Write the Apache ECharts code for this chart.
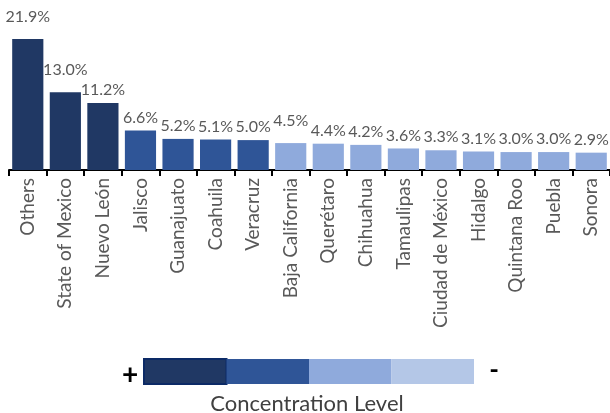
<!DOCTYPE html>
<html>
<head>
<meta charset="utf-8">
<script src="https://cdn.jsdelivr.net/npm/echarts@6/dist/echarts.min.js"></script>
<style>
  html, body { margin: 0; padding: 0; background: #fff; }
  #chart { width: 610px; height: 413px; }
</style>
</head>
<body>
<div id="chart"></div>
<script>
// states ranked by share
var states = ['Others', 'State of Mexico', 'Nuevo León', 'Jalisco', 'Guanajuato', 'Coahuila', 'Veracruz',
  'Baja California', 'Querétaro', 'Chihuahua', 'Tamaulipas', 'Ciudad de México', 'Hidalgo',
  'Quintana Roo', 'Puebla', 'Sonora'];
var shares = [21.9, 13.0, 11.2, 6.6, 5.2, 5.1, 5.0, 4.5, 4.4, 4.2, 3.6, 3.3, 3.1, 3.0, 3.0, 2.9];
// labels that sit a bit higher in the original
var raisedLabels = ['Others', 'State of Mexico', 'Baja California'];

var levelColors = ['#203864', '#2f5597', '#8faadc', '#b4c7e7'];
var FONT = 'Lato';

function levelColor(v) {
  if (v >= 10) return levelColors[0];
  if (v >= 5) return levelColors[1];
  return levelColors[2];
}

var chart = echarts.init(document.getElementById('chart'));

var barData = shares.map(function (v, i) {
  var item = { value: v, itemStyle: { color: levelColor(v) } };
  if (raisedLabels.indexOf(states[i]) >= 0) {
    item.label = { distance: 14 };
  }
  return item;
});

// colour scale legend under the chart
var legendX = 144, legendY = 359, segW = 82.5, segH = 25;
var legendParts = levelColors.map(function (c, i) {
  return {
    type: 'rect',
    shape: { x: legendX + i * segW, y: legendY, width: segW, height: segH },
    style: i === 0 ? { fill: c, stroke: '#0c2a66', lineWidth: 2 } : { fill: c }
  };
});
legendParts.push(
  { type: 'text', x: 130, y: 375, style: { text: '+', fill: '#000', font: 'bold 28px ' + FONT, align: 'center', verticalAlign: 'middle' } },
  { type: 'text', x: 494, y: 371, style: { text: '-', fill: '#000', font: 'bold 26px ' + FONT, align: 'center', verticalAlign: 'middle' } },
  { type: 'text', x: 307, y: 404, style: { text: 'Concentration Level', fill: '#404040', font: '22px ' + FONT, align: 'center', verticalAlign: 'middle' } }
);

chart.setOption({
  animation: false,
  grid: { left: 9, width: 605, top: 20.5, bottom: 243 },
  xAxis: {
    type: 'category',
    data: states,
    axisLine: { lineStyle: { color: '#000', width: 2 } },
    axisTick: { show: true, length: 6, lineStyle: { color: '#000', width: 2 } },
    axisLabel: {
      rotate: 90,
      interval: 0,
      margin: 8,
      color: '#595959',
      fontFamily: FONT,
      fontSize: 19
    }
  },
  yAxis: {
    type: 'value',
    min: 0,
    max: 25,
    show: false,
    splitLine: { show: false }
  },
  series: [{
    type: 'bar',
    data: barData,
    barCategoryGap: '17%',
    label: {
      show: true,
      position: 'top',
      distance: 5,
      color: '#595959',
      fontFamily: FONT,
      fontSize: 16,
      formatter: function (p) { return p.value.toFixed(1) + '%'; }
    }
  }],
  graphic: [{ type: 'group', children: legendParts }]
});
</script>
</body>
</html>
